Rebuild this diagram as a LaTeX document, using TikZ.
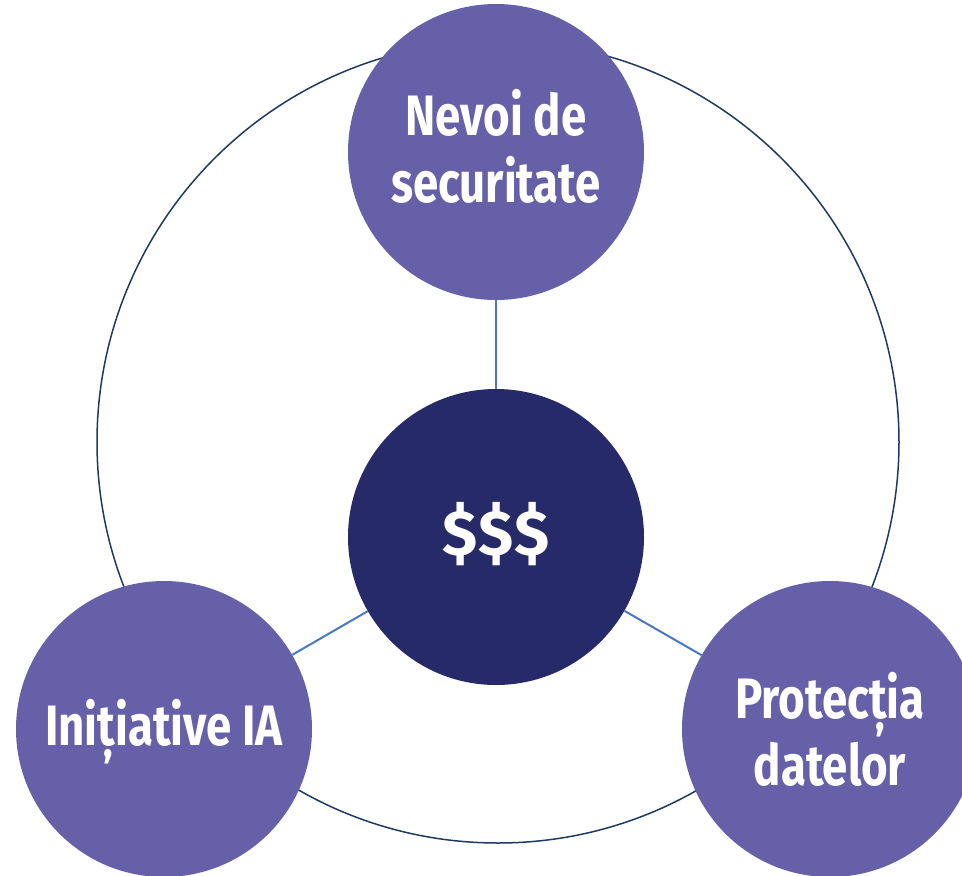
\documentclass[tikz,border=0pt]{standalone}
\usepackage{fontspec}
\newfontfamily\lblfont[FakeStretch=0.80]{Fira Sans}
\newfontfamily\dolfont[FakeStretch=1.0]{Fira Sans}
\usetikzlibrary{backgrounds}
\definecolor{ringcol}{HTML}{1F3A60}
\definecolor{linkcol}{HTML}{4A78C0}
\definecolor{outercol}{HTML}{6660A8}
\definecolor{corecol}{HTML}{262A68}
\tikzset{
  bubble/.style={circle, minimum size=296pt, inner sep=0pt},
  outerbubble/.style={bubble, fill=outercol},
  corebubble/.style={bubble, fill=corecol},
  bubbletext/.style={inner sep=0pt, text=white, align=center,
    font=\lblfont\bfseries\fontsize{57pt}{67pt}\selectfont},
  link/.style={draw=linkcol, line width=2pt},
  ring/.style={draw=ringcol, line width=1.5pt}
}
\begin{document}
\begin{tikzpicture}[x=1pt,y=-1pt]
\useasboundingbox (0,0) rectangle (962,876);
\clip (0,0) rectangle (962,876);
\coordinate (ringc) at (498,442);
\draw[ring] (ringc) circle (401pt);
\node[outerbubble] (sec) at (496,152) {};
\node[corebubble] (core) at (496,537) {};
\node[outerbubble] (ia) at (164,729) {};
\node[outerbubble] (prot) at (830,729) {};
\node[bubbletext] (sect) at ([yshift=6pt]sec.center) {Nevoi de\\securitate};
\node[bubbletext, font=\dolfont\bfseries\fontsize{64pt}{70pt}\selectfont] (coret) at ([yshift=3pt]core.center) {\$\kern1pt\$\kern1pt\$};
\node[bubbletext] (iat) at ([yshift=-3pt]ia.center) {Inițiative IA};
\node[bubbletext] (prott) at (prot.center) {Protecția\\datelor};
\begin{scope}[on background layer]
\draw[link] (core) -- (sec);
\draw[link] (core) -- (ia);
\draw[link] (core) -- (prot);
\end{scope}
\end{tikzpicture}
\end{document}
